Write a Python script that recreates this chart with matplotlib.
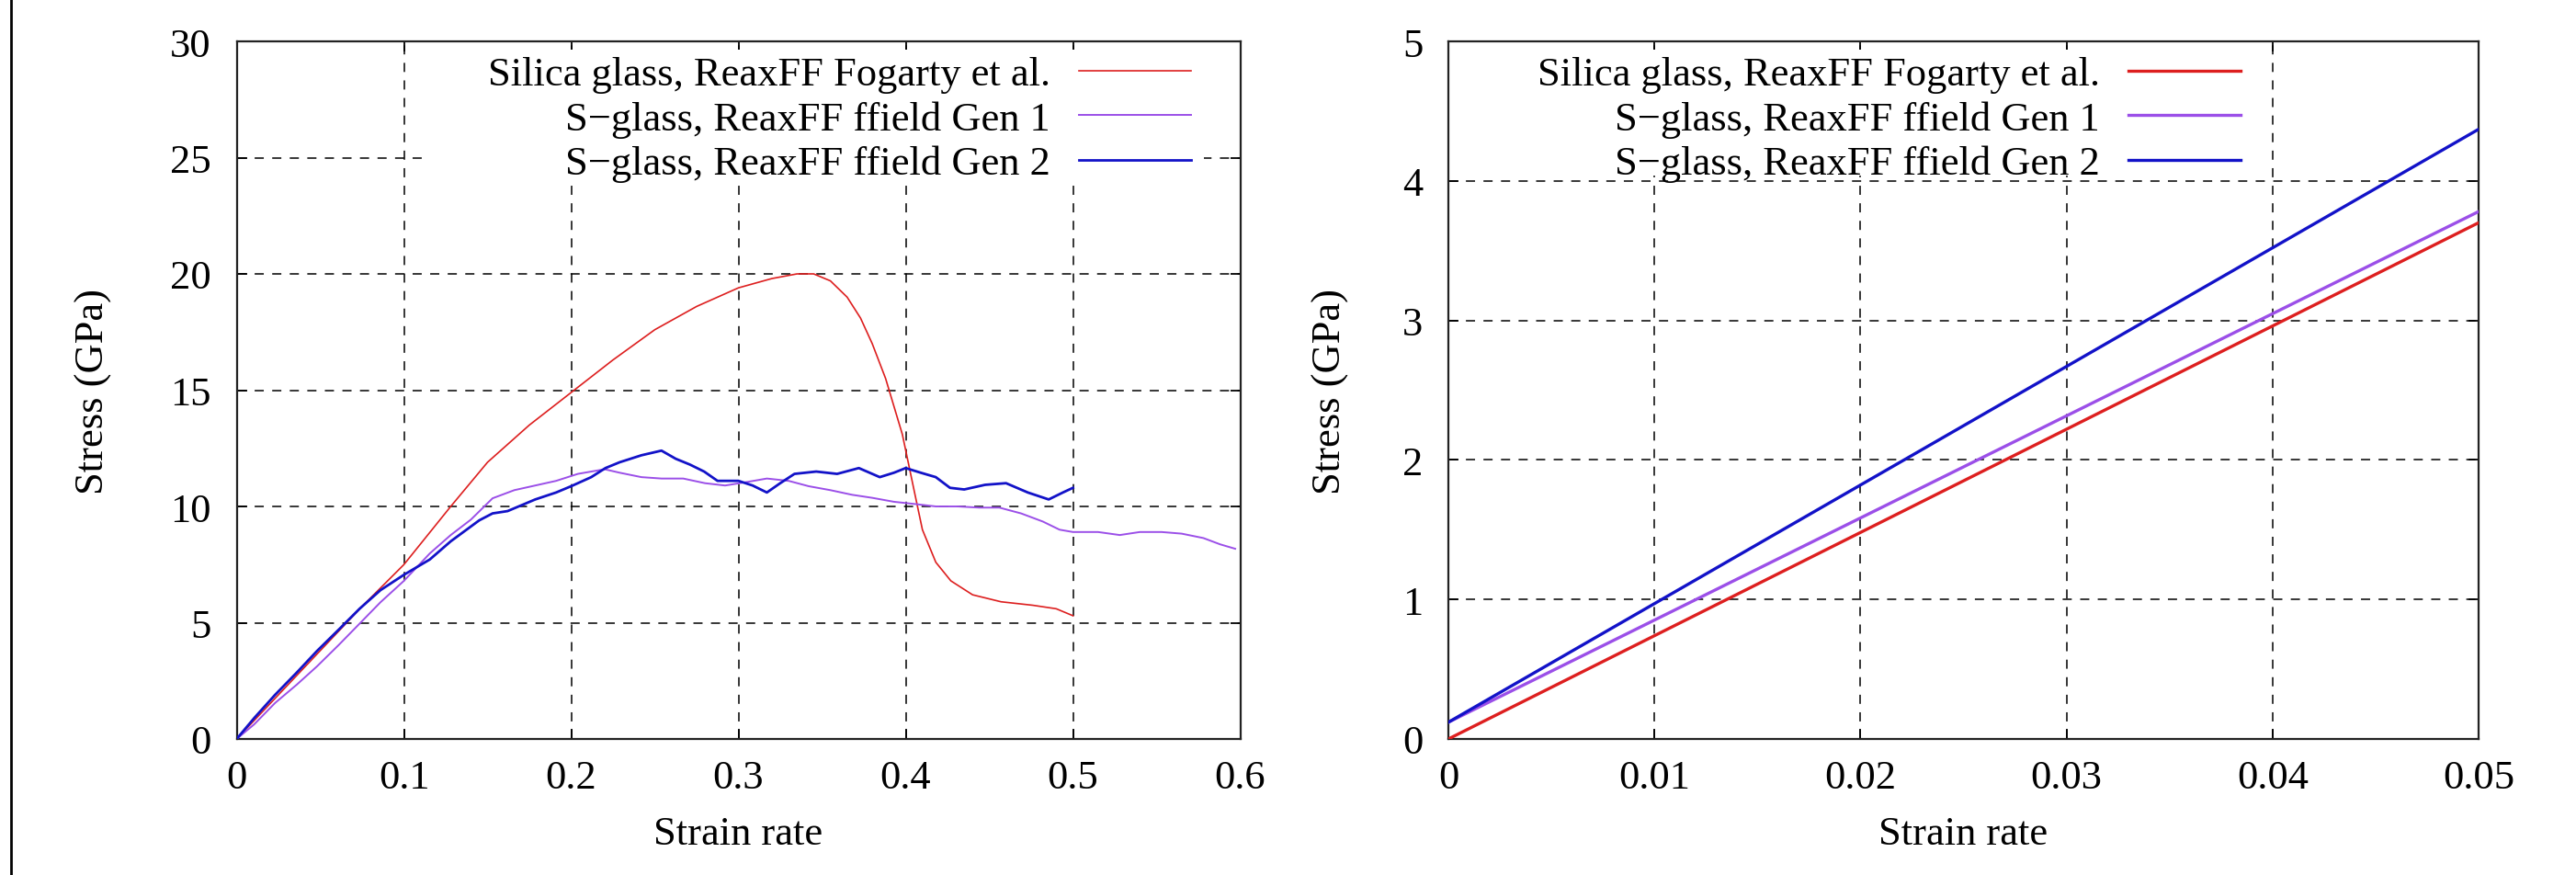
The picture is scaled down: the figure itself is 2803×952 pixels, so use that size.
import matplotlib
matplotlib.use("Agg")
import matplotlib.pyplot as plt
from matplotlib.lines import Line2D
from matplotlib.patches import Rectangle

# ---------------- data ----------------
labels = ["Silica glass, ReaxFF Fogarty et al.",
          "S\u2212glass, ReaxFF ffield Gen 1",
          "S\u2212glass, ReaxFF ffield Gen 2"]

# left panel
silica_x = [0, 0.025, 0.05, 0.075, 0.1, 0.128, 0.15, 0.175, 0.2, 0.225, 0.25, 0.275,
            0.3, 0.32, 0.335, 0.345, 0.355, 0.365, 0.373, 0.38, 0.388, 0.398, 0.405,
            0.41, 0.418, 0.427, 0.44, 0.457, 0.476, 0.49, 0.5]
silica_y = [0, 1.9, 3.8, 5.7, 7.5, 10.0, 11.9, 13.5, 14.9, 16.3, 17.6, 18.6,
            19.4, 19.8, 20.0, 20.0, 19.7, 19.0, 18.1, 17.0, 15.5, 13.1, 10.7,
            9.0, 7.6, 6.8, 6.2, 5.9, 5.75, 5.6, 5.3]

gen1_x = [0, 0.0105, 0.023, 0.036, 0.048, 0.061, 0.0735, 0.086, 0.1, 0.1155, 0.128,
          0.14, 0.153, 0.166, 0.1785, 0.191, 0.204, 0.212, 0.22, 0.229, 0.242, 0.254,
          0.267, 0.28, 0.292, 0.305, 0.317, 0.33, 0.342, 0.355, 0.368, 0.38, 0.393,
          0.406, 0.418, 0.431, 0.444, 0.456, 0.469, 0.482, 0.492, 0.5, 0.515, 0.528,
          0.54, 0.553, 0.565, 0.578, 0.588, 0.597]
gen1_y = [0, 0.63, 1.55, 2.34, 3.12, 4.04, 4.96, 5.88, 6.8, 7.98, 8.77,
          9.43, 10.35, 10.7, 10.9, 11.1, 11.4, 11.5, 11.6, 11.45, 11.26, 11.2,
          11.2, 11.0, 10.9, 11.05, 11.2, 11.1, 10.87, 10.7, 10.5, 10.37, 10.2,
          10.1, 10.0, 10.0, 9.95, 9.95, 9.7, 9.35, 9.0, 8.9, 8.9, 8.77,
          8.9, 8.9, 8.83, 8.64, 8.37, 8.18]

gen2_x = [0, 0.0105, 0.023, 0.036, 0.048, 0.061, 0.0735, 0.086, 0.1, 0.1155, 0.128,
          0.145, 0.153, 0.162, 0.1785, 0.191, 0.2, 0.212, 0.2205, 0.229, 0.242, 0.254,
          0.2625, 0.271, 0.2795, 0.2875, 0.3, 0.3085, 0.317, 0.325, 0.3335, 0.3465,
          0.359, 0.372, 0.3845, 0.393, 0.4, 0.409, 0.418, 0.4265, 0.435, 0.4475,
          0.46, 0.473, 0.4855, 0.494, 0.5]
gen2_y = [0, 0.9, 1.9, 2.86, 3.78, 4.7, 5.6, 6.4, 7.06, 7.72, 8.5,
          9.4, 9.7, 9.8, 10.3, 10.6, 10.87, 11.26, 11.65, 11.9, 12.2, 12.4,
          12.05, 11.8, 11.5, 11.1, 11.1, 10.9, 10.6, 11.0, 11.4, 11.5,
          11.4, 11.65, 11.26, 11.45, 11.65, 11.45, 11.26, 10.8, 10.73, 10.93,
          11.0, 10.6, 10.3, 10.6, 10.8]

# right panel (linear elastic region)
r_x = [0, 0.05]
r_silica_y = [0.0, 3.70]
r_gen1_y = [0.12, 3.78]
r_gen2_y = [0.12, 4.37]

left_xticks = [0, 0.1, 0.2, 0.3, 0.4, 0.5, 0.6]
left_xticklabels = ["0", "0.1", "0.2", "0.3", "0.4", "0.5", "0.6"]
left_yticks = [0, 5, 10, 15, 20, 25, 30]
right_xticks = [0, 0.01, 0.02, 0.03, 0.04, 0.05]
right_xticklabels = ["0", "0.01", "0.02", "0.03", "0.04", "0.05"]
right_yticks = [0, 1, 2, 3, 4, 5]

# ---------------- style ----------------
plt.rcParams['font.family'] = ['Liberation Serif', 'DejaVu Serif']
FS = 32
RED = '#dd1f1f'
PURPLE = '#9b4fe8'
BLUE = '#1212c8'

W, H = 2803, 953
fig = plt.figure(figsize=(W / 100, H / 100), dpi=100)

def px_axes(x0, x1, ytop, ybot):
    return fig.add_axes([x0 / W, (H - ybot) / H, (x1 - x0) / W, (ybot - ytop) / H])

axL = px_axes(257.5, 1349.5, 46, 805)
axR = px_axes(1576, 2697, 46, 805)

def style(ax, xticks, xlabels, yticks, xlim, ylim):
    ax.set_xlim(*xlim)
    ax.set_ylim(*ylim)
    ax.set_xticks(xticks)
    ax.set_xticklabels(xlabels)
    ax.set_yticks(yticks)
    ax.tick_params(direction='in', length=8, width=1.3, top=True, right=True,
                   labelsize=FS, colors='black')
    ax.tick_params(axis='x', pad=16)
    ax.tick_params(axis='y', pad=20)
    for s in ax.spines.values():
        s.set_linewidth(1.6)
        s.set_color('#222222')
    ax.grid(True, color='black', linestyle=(0, (6.5, 6)), linewidth=1.1)
    ax.set_axisbelow(True)
    ax.set_xlabel("Strain rate", fontsize=FS, labelpad=15)
    ax.set_ylabel("Stress (GPa)", fontsize=FS)

style(axL, left_xticks, left_xticklabels, left_yticks, (0, 0.6), (0, 30))
style(axR, right_xticks, right_xticklabels, right_yticks, (0, 0.05), (0, 5))
axL.yaxis.set_label_coords((122 - 257.5) / 1092, 0.5)
axR.yaxis.set_label_coords((1468 - 1576) / 1121, 0.5)

axL.plot(silica_x, silica_y, color=RED, lw=1.2, label=labels[0], zorder=3)
axL.plot(gen1_x, gen1_y, color=PURPLE, lw=1.4, label=labels[1], zorder=3)
axL.plot(gen2_x, gen2_y, color=BLUE, lw=2.0, label=labels[2], zorder=3)

axR.plot(r_x, r_silica_y, color=RED, lw=2.4, label=labels[0], zorder=3)
axR.plot(r_x, r_gen1_y, color=PURPLE, lw=2.4, label=labels[1], zorder=3)
axR.plot(r_x, r_gen2_y, color=BLUE, lw=2.4, label=labels[2], zorder=3)

# opaque key area (hides the grid behind the key, as in the original)
for ax, (bx0, bx1, by0, by1) in ((axL, (462, 1310, 55, 198)),
                                 (axR, (1600, 2455, 55, 192))):
    ax.add_patch(Rectangle((bx0 / W, 1 - by1 / H), (bx1 - bx0) / W, (by1 - by0) / H,
                           transform=fig.transFigure, facecolor='white',
                           edgecolor='none', zorder=1, clip_on=False))

for ax, xr in ((axL, 1296), (axR, 2438)):
    leg = ax.legend(loc='upper right', bbox_to_anchor=(xr / W, 1 - 62 / H),
                    bbox_transform=fig.transFigure, frameon=False, markerfirst=False,
                    fontsize=FS, handlelength=2.75, handletextpad=0.7,
                    labelspacing=0.18, borderpad=0, borderaxespad=0)
    leg.set_zorder(5)
    for t in leg.get_texts():
        t.set_ha('right')
    leg._legend_box.align = 'right'

fig.add_artist(Line2D([12 / W, 12 / W], [0, 1], transform=fig.transFigure,
                      color='black', lw=2))

fig.savefig("out.png", dpi=100, facecolor='white')
